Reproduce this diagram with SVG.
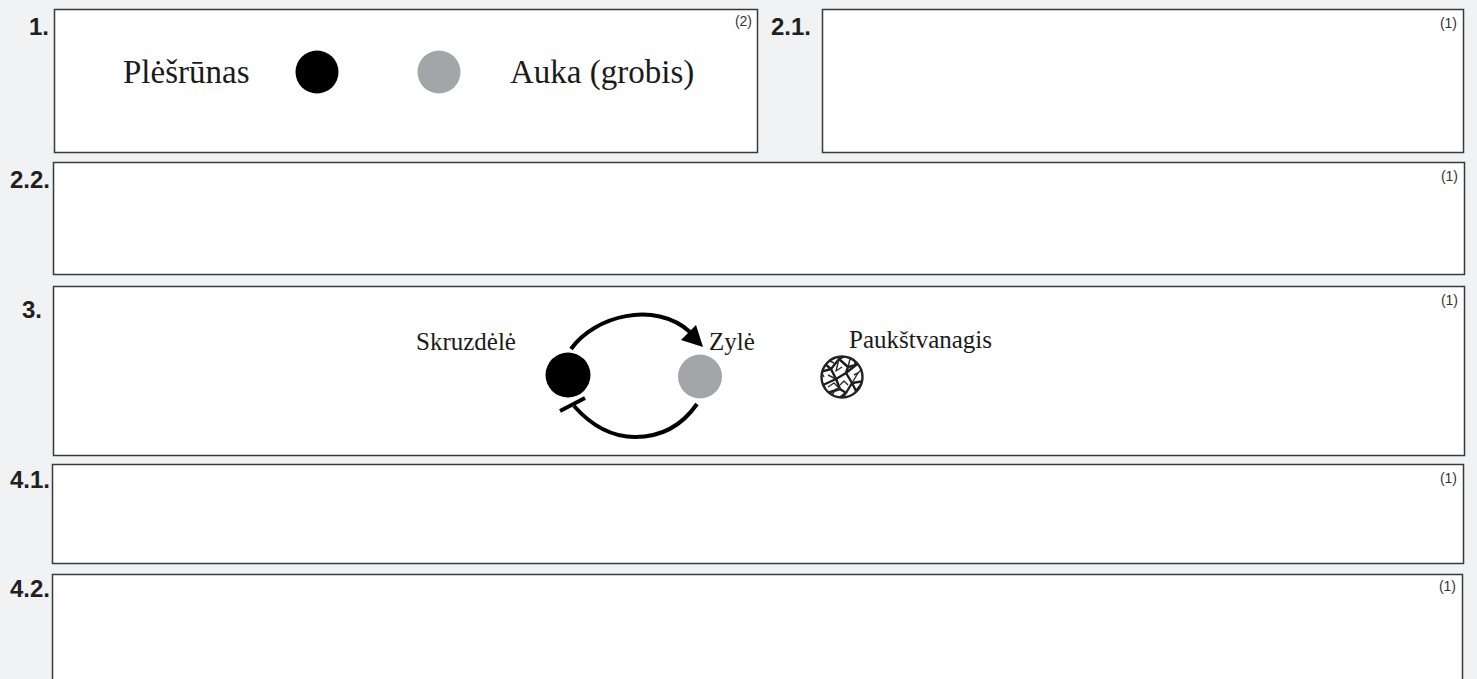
<svg xmlns="http://www.w3.org/2000/svg" width="1477" height="679" viewBox="0 0 1477 679">
<style>
.box{fill:#ffffff;stroke:#3a3a3a;stroke-width:1.5}
.num{font-family:"Liberation Sans",Arial,sans-serif;font-weight:bold;font-size:24px;fill:#231f20;text-anchor:end}
.pts{font-family:"Liberation Sans",Arial,sans-serif;font-size:14px;fill:#333333;text-anchor:end}
.lg{font-family:"Liberation Serif","Times New Roman",serif;font-size:33px;fill:#1a1a1a}
.sm{font-family:"Liberation Serif","Times New Roman",serif;font-size:25px;fill:#1a1a1a}
.link{fill:none;stroke:#000;stroke-width:4;stroke-linecap:butt}
.net{fill:none;stroke:#1e1e1e;stroke-width:2.4;stroke-linejoin:round}
.net2{fill:none;stroke:#2a2a2a;stroke-width:1.4;stroke-linejoin:round}
</style>
<defs>
<clipPath id="hawkClip"><circle cx="0" cy="0" r="21"/></clipPath>
</defs>
<rect x="0" y="0" width="1477" height="679" fill="#f1f2f4"/>

<g id="q1">
<rect class="box" x="54.5" y="9.5" width="703" height="143"/>
<text class="num" x="49" y="35">1.</text>
<text class="pts" x="752" y="26">(2)</text>
<text class="lg" x="123" y="83">Plėšrūnas</text>
<circle cx="317" cy="72" r="21.5" fill="#000"/>
<circle cx="439" cy="72" r="21.5" fill="#a3a5a8"/>
<text class="lg" x="510" y="83">Auka (grobis)</text>
</g>

<g id="q2-1">
<rect class="box" x="822.5" y="9.5" width="641" height="143"/>
<text class="num" x="811" y="35">2.1.</text>
<text class="pts" x="1457" y="28">(1)</text>
</g>

<g id="q2-2">
<rect class="box" x="53.5" y="162.5" width="1411" height="112"/>
<text class="num" x="50" y="188">2.2.</text>
<text class="pts" x="1458" y="181">(1)</text>
</g>

<g id="q3">
<rect class="box" x="53.5" y="286.5" width="1411" height="169"/>
<text class="num" x="42" y="318">3.</text>
<text class="pts" x="1458" y="305">(1)</text>
</g>

<g id="node-skruzdele">
<text class="sm" x="416" y="350">Skruzdėlė</text>
<circle cx="568" cy="375" r="22.5" fill="#000"/>
</g>

<g id="node-zyle">
<text class="sm" x="709" y="350">Zylė</text>
<circle cx="700" cy="376.5" r="22" fill="#a3a5a8"/>
</g>

<g id="node-paukstvanagis">
<text class="sm" x="849" y="348">Paukštvanagis</text>
<g transform="translate(842,377)">
<circle cx="0" cy="0" r="21" fill="#ffffff"/>
<g clip-path="url(#hawkClip)">
<path class="net" d="M-22,-5 L-11,-8 L-3,-18 L5,-22"/>
<path class="net" d="M-11,-8 L-6,2 L-19,8"/>
<path class="net" d="M-6,2 L4,-4 L14,-12 L19,-15"/>
<path class="net" d="M4,-4 L10,6 L22,4"/>
<path class="net" d="M10,6 L4,16 L-4,22"/>
<path class="net" d="M-6,2 L-2,12 L4,16"/>
<path class="net" d="M-2,12 L-15,16"/>
<path class="net" d="M-3,-18 L6,-10 L4,-4"/>
<path class="net" d="M14,-12 L11,-22"/>
<path class="net" d="M-17,-13 L-11,-8"/>
<path class="net" d="M22,4 L14,14 L10,6"/>
<path class="net" d="M14,14 L12,22"/>
<path class="net" d="M-19,8 L-15,16 L-12,22"/>
<path class="net" d="M6,-10 L14,-12"/>
<path class="net2" d="M-14,-2 L-6,2"/>
<path class="net2" d="M-2,12 L-8,6 L-14,10"/>
<path class="net2" d="M16,-4 L10,6"/>
<path class="net2" d="M-8,-14 L-16,-18"/>
<path class="net2" d="M0,-10 L-6,-6 L-3,-18"/>
<path class="net2" d="M12,-2 L16,-4 L20,-8"/>
<path class="net2" d="M-10,18 L-6,12 L-2,12"/>
<path class="net2" d="M6,8 L2,4 L-2,8"/>
<path class="net2" d="M16,10 L20,14"/>
<path class="net2" d="M-18,0 L-20,-4"/>
<path class="net2" d="M8,-18 L6,-10"/>
<path class="net2" d="M2,20 L6,12"/>
</g>
<circle cx="0" cy="0" r="20.5" fill="none" stroke="#222" stroke-width="2.4"/>
</g>
</g>

<g id="connectors">
<path class="link" d="M571,349 C594,316 655,300 690,332"/>
<polygon points="703,347 681,340 696,325" fill="#000"/>
<path class="link" d="M697,404 C681,427 660,437 635,437 C610,437 590,424 574,406"/>
<line class="link" x1="560" y1="411" x2="585" y2="398"/>
</g>

<g id="q4-1">
<rect class="box" x="52.5" y="464.5" width="1411" height="99"/>
<text class="num" x="50" y="488">4.1.</text>
<text class="pts" x="1457" y="483">(1)</text>
</g>

<g id="q4-2">
<rect class="box" x="52.5" y="574.5" width="1410" height="120"/>
<text class="num" x="50" y="597">4.2.</text>
<text class="pts" x="1456" y="591">(1)</text>
</g>
</svg>
